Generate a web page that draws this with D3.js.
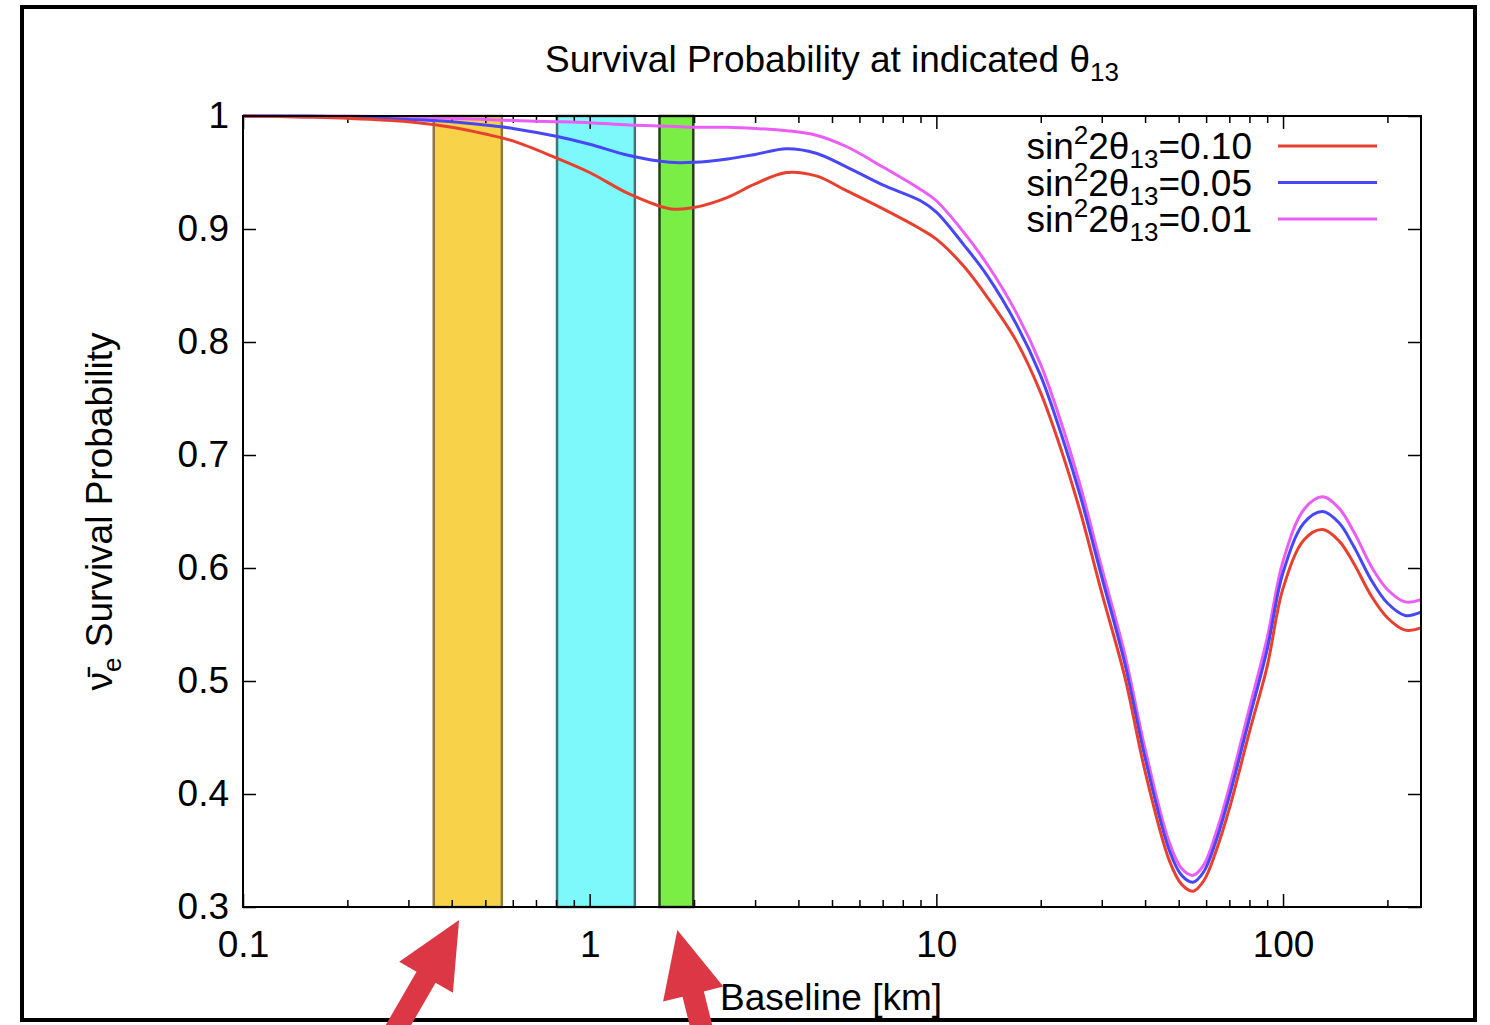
<!DOCTYPE html>
<html>
<head>
<meta charset="utf-8">
<script src="https://cdn.jsdelivr.net/npm/d3@7"></script>
<style>
body { margin: 0; background: #fff; }
text { font-family: "Liberation Sans", Arial, sans-serif; fill: #000; }
</style>
</head>
<body>
<div id="chart"></div>
<script>
// data
var baselineKm = [0.1, 0.15, 0.2, 0.3, 0.4, 0.5, 0.6, 0.8, 1.0, 1.3, 1.7, 2.0, 2.5, 3.0, 3.7, 4.5, 5.5, 7, 9, 10,
    12, 14, 17, 20, 23, 26, 30, 35, 40, 47, 51, 55, 59, 64, 70, 80, 90, 100, 115, 130, 145, 160, 180, 200, 225, 250];

var probS10 = [1.000, 0.999, 0.998, 0.995, 0.990, 0.984, 0.978, 0.963, 0.950, 0.931, 0.918, 0.919, 0.928, 0.940, 0.950, 0.947, 0.934, 0.918, 0.900, 0.891,
    0.867, 0.840, 0.801, 0.755, 0.703, 0.650, 0.578, 0.503, 0.420, 0.341, 0.320, 0.314, 0.323, 0.349, 0.387, 0.455, 0.513, 0.582, 0.625, 0.634, 0.624, 0.604, 0.575, 0.556, 0.545, 0.547];

var probS05 = [1.000, 1.000, 0.999, 0.997, 0.995, 0.992, 0.989, 0.982, 0.975, 0.965, 0.959, 0.959, 0.962, 0.966, 0.971, 0.967, 0.955, 0.939, 0.925, 0.915,
    0.886, 0.859, 0.816, 0.770, 0.717, 0.664, 0.592, 0.515, 0.432, 0.350, 0.328, 0.322, 0.331, 0.358, 0.398, 0.467, 0.528, 0.596, 0.640, 0.650, 0.640, 0.619, 0.589, 0.569, 0.558, 0.561];

var probS01 = [1.000, 1.000, 1.000, 0.999, 0.998, 0.997, 0.996, 0.995, 0.994, 0.992, 0.991, 0.990, 0.990, 0.989, 0.987, 0.983, 0.973, 0.955, 0.935, 0.925,
    0.897, 0.869, 0.826, 0.780, 0.727, 0.673, 0.600, 0.523, 0.440, 0.357, 0.334, 0.328, 0.337, 0.365, 0.406, 0.476, 0.538, 0.606, 0.652, 0.663, 0.653, 0.632, 0.601, 0.581, 0.570, 0.572];

var seriesValues = ["0.10", "0.05", "0.01"];
var seriesColors = ["#e8402f", "#4747f7", "#ea5ef6"];

// detector bands [from, to] in km
var bandRanges = [[0.355, 0.558], [0.805, 1.35], [1.59, 1.99]];
var bandFill = ["#f8d34a", "#7ef9fb", "#7bee45"];
var bandEdge = ["#8a7a3c", "#3d7676", "#24401a"];

var xTickValues = [0.1, 1, 10, 100];
var yTickValues = [0.3, 0.4, 0.5, 0.6, 0.7, 0.8, 0.9, 1];
var arrowKm = [0.42, 1.79];

var svgWidth = 1490;
var svgHeight = 1025;
var fontSize = 37;
var smallSize = 26;

var margin = { top: 116, right: 69, bottom: 118, left: 243 };
var width = svgWidth - margin.left - margin.right;
var height = svgHeight - margin.top - margin.bottom;

var svg = d3.select("#chart")
    .append("svg")
    .attr("width", svgWidth)
    .attr("height", svgHeight);

var chartGroup = svg.append("g")
    .attr("transform", `translate(${margin.left}, ${margin.top})`);

var xLogScale = d3.scaleLog().domain([0.1, 250]).range([0, width]);
var yLinearScale = d3.scaleLinear().domain([0.3, 1]).range([height, 0]);

// bands
chartGroup.selectAll(".band")
    .data(bandRanges)
    .enter()
    .append("rect")
    .attr("class", "band")
    .attr("x", d => xLogScale(d[0]))
    .attr("y", 0)
    .attr("width", d => xLogScale(d[1]) - xLogScale(d[0]))
    .attr("height", height)
    .attr("fill", (d, i) => bandFill[i])
    .attr("stroke", (d, i) => bandEdge[i])
    .attr("stroke-width", 2.5);

// minor tick values
var minorX = [];
[0.1, 1, 10, 100].forEach(function(dec) {
    for (var k = 2; k <= 9; k++) {
        if (k * dec <= 250) minorX.push(k * dec);
    }
});

function styleAxis(g) {
    g.select(".domain").remove();
    g.selectAll("line").attr("stroke", "#000").attr("stroke-width", 1.5);
    g.attr("font-family", null).attr("font-size", fontSize);
}

var fmtY = d => d === 1 ? "1" : d.toFixed(1);
var fmtX = d => d < 1 ? "0.1" : String(d);

chartGroup.append("g")
    .call(d3.axisLeft(yLinearScale).tickValues(yTickValues).tickSize(-13).tickSizeOuter(0).tickPadding(14).tickFormat(fmtY))
    .call(styleAxis);

chartGroup.append("g")
    .attr("transform", `translate(${width}, 0)`)
    .call(d3.axisRight(yLinearScale).tickValues(yTickValues).tickSize(-13).tickSizeOuter(0).tickFormat(""))
    .call(styleAxis);

chartGroup.append("g")
    .attr("transform", `translate(0, ${height})`)
    .call(d3.axisBottom(xLogScale).tickValues(xTickValues).tickSize(-13).tickSizeOuter(0).tickPadding(24).tickFormat(fmtX))
    .call(styleAxis);

chartGroup.append("g")
    .attr("transform", `translate(0, ${height})`)
    .call(d3.axisBottom(xLogScale).tickValues(minorX).tickSize(-7).tickSizeOuter(0).tickFormat(""))
    .call(styleAxis);

chartGroup.append("g")
    .call(d3.axisTop(xLogScale).tickValues(xTickValues).tickSize(-13).tickSizeOuter(0).tickFormat(""))
    .call(styleAxis);

chartGroup.append("g")
    .call(d3.axisTop(xLogScale).tickValues(minorX).tickSize(-7).tickSizeOuter(0).tickFormat(""))
    .call(styleAxis);

// curves
var allSeries = [probS10, probS05, probS01];
var line = d3.line()
    .x((d, i) => xLogScale(baselineKm[i]))
    .y(d => yLinearScale(d))
    .curve(d3.curveCatmullRom.alpha(0.5));

chartGroup.selectAll(".curve")
    .data(allSeries.slice().reverse())
    .enter()
    .append("path")
    .attr("class", "curve")
    .attr("d", line)
    .attr("fill", "none")
    .attr("stroke", (d, i) => seriesColors[2 - i])
    .attr("stroke-width", 3);

// plot border
chartGroup.append("rect")
    .attr("width", width)
    .attr("height", height)
    .attr("fill", "none")
    .attr("stroke", "#000")
    .attr("stroke-width", 2);

// legend
var legend = svg.append("g");
seriesValues.forEach(function(v, i) {
    var cy = 146 + i * 36.5;
    var t = legend.append("text")
        .attr("x", 1252)
        .attr("y", cy + 13)
        .attr("text-anchor", "end")
        .attr("font-size", fontSize);
    t.append("tspan").text("sin");
    t.append("tspan").attr("dy", -15).attr("font-size", smallSize).text("2");
    t.append("tspan").attr("dy", 15).text("2θ");
    t.append("tspan").attr("dy", 9).attr("font-size", smallSize).text("13");
    t.append("tspan").attr("dy", -9).text("=" + v);
    legend.append("line")
        .attr("x1", 1278).attr("x2", 1377)
        .attr("y1", cy).attr("y2", cy)
        .attr("stroke", seriesColors[i])
        .attr("stroke-width", 3);
});

// title
var title = svg.append("text")
    .attr("x", margin.left + width / 2)
    .attr("y", 72)
    .attr("text-anchor", "middle")
    .attr("font-size", fontSize);
title.append("tspan").text("Survival Probability at indicated θ");
title.append("tspan").attr("dy", 9).attr("font-size", smallSize).text("13");

// axis labels
var yLabel = svg.append("text")
    .attr("transform", `translate(112, ${margin.top + height / 2}) rotate(-90)`)
    .attr("text-anchor", "middle")
    .attr("font-size", fontSize);
yLabel.append("tspan").text("ν\u0304");
yLabel.append("tspan").attr("dy", 9).attr("font-size", smallSize).text("e");
yLabel.append("tspan").attr("dy", -9).text(" Survival Probability");

svg.append("text")
    .attr("x", 831)
    .attr("y", 1010)
    .attr("text-anchor", "middle")
    .attr("font-size", fontSize)
    .text("Baseline [km]");

// outer frame
svg.append("rect")
    .attr("x", 22).attr("y", 7)
    .attr("width", 1453).attr("height", 1013)
    .attr("fill", "none")
    .attr("stroke", "#000")
    .attr("stroke-width", 4);

// red arrows pointing at the bands
var arrowDirs = [[-0.5, 0.866], [0.24, 0.97]];
function arrowPoints(tx, ty, d) {
    var len = Math.hypot(d[0], d[1]);
    var dx = d[0] / len, dy = d[1] / len;
    var nx = -dy, ny = dx;
    var headLen = 66, headW = 31, shaftW = 11, total = 220;
    var bx = tx + dx * headLen, by = ty + dy * headLen;
    var ex = tx + dx * total, ey = ty + dy * total;
    return [
        [tx, ty],
        [bx + nx * headW, by + ny * headW],
        [bx + nx * shaftW, by + ny * shaftW],
        [ex + nx * shaftW, ey + ny * shaftW],
        [ex - nx * shaftW, ey - ny * shaftW],
        [bx - nx * shaftW, by - ny * shaftW],
        [bx - nx * headW, by - ny * headW]
    ];
}

svg.selectAll(".arrow")
    .data(arrowKm)
    .enter()
    .append("polygon")
    .attr("class", "arrow")
    .attr("points", (d, i) => arrowPoints(margin.left + xLogScale(d), i === 0 ? 920 : 930, arrowDirs[i]).map(p => p.join(",")).join(" "))
    .attr("fill", "#db3744");
</script>
</body>
</html>
